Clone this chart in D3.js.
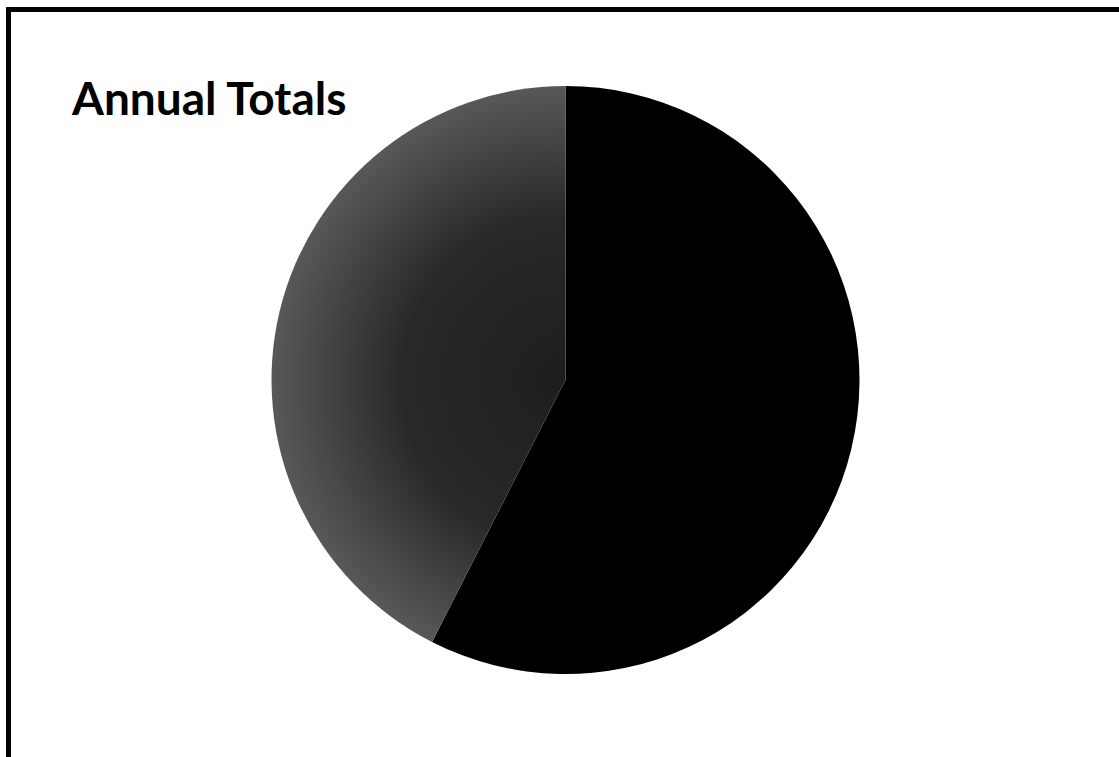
<!DOCTYPE html>
<html><head><meta charset="utf-8">
<script src="https://cdn.jsdelivr.net/npm/d3@7"></script>
<style>html,body{margin:0;padding:0;background:#fff;}svg{display:block;}</style>
</head><body>
<svg id="chart" width="1119" height="757"></svg>
<script>
const categories = ["Part 1", "Part 2"];
const values = [57.5, 42.5];
const colors = ["#000000", "url(#grayFill)"];
const title = "Annual Totals";

const svg = d3.select("#chart");
const W = 1119, H = 757;
svg.append("rect").attr("x",0).attr("y",0).attr("width",W).attr("height",H).attr("fill","#fff");

const cx = 565.5, cy = 380, r = 294;
const defs = svg.append("defs");
const grad = defs.append("radialGradient").attr("id","grayFill")
  .attr("gradientUnits","userSpaceOnUse").attr("cx",0).attr("cy",0).attr("r",r);
grad.append("stop").attr("offset","0%").attr("stop-color","#1e1e1e");
grad.append("stop").attr("offset","55%").attr("stop-color","#282828");
grad.append("stop").attr("offset","100%").attr("stop-color","#585858");

// frame: top and left border only visible
svg.append("rect").attr("x",6).attr("y",7).attr("width",W-6).attr("height",5).attr("fill","#000");
svg.append("rect").attr("x",6).attr("y",7).attr("width",5).attr("height",H-7).attr("fill","#000");

svg.append("text").attr("x",72).attr("y",115)
  .attr("font-family","Lato, 'Open Sans', sans-serif").attr("font-weight","bold")
  .attr("font-size",46).attr("fill","#000").text(title);

const data = categories.map((c,i)=>({name:c, value:values[i]}));
const pie = d3.pie().sort(null).value(d=>d.value);
const arc = d3.arc().innerRadius(0).outerRadius(r);
const color = d3.scaleOrdinal().domain(categories).range(colors);
svg.append("g").attr("transform",`translate(${cx},${cy})`)
  .selectAll("path").data(pie(data)).join("path")
  .attr("d",arc).attr("fill",d=>color(d.data.name));
</script>
</body></html>
